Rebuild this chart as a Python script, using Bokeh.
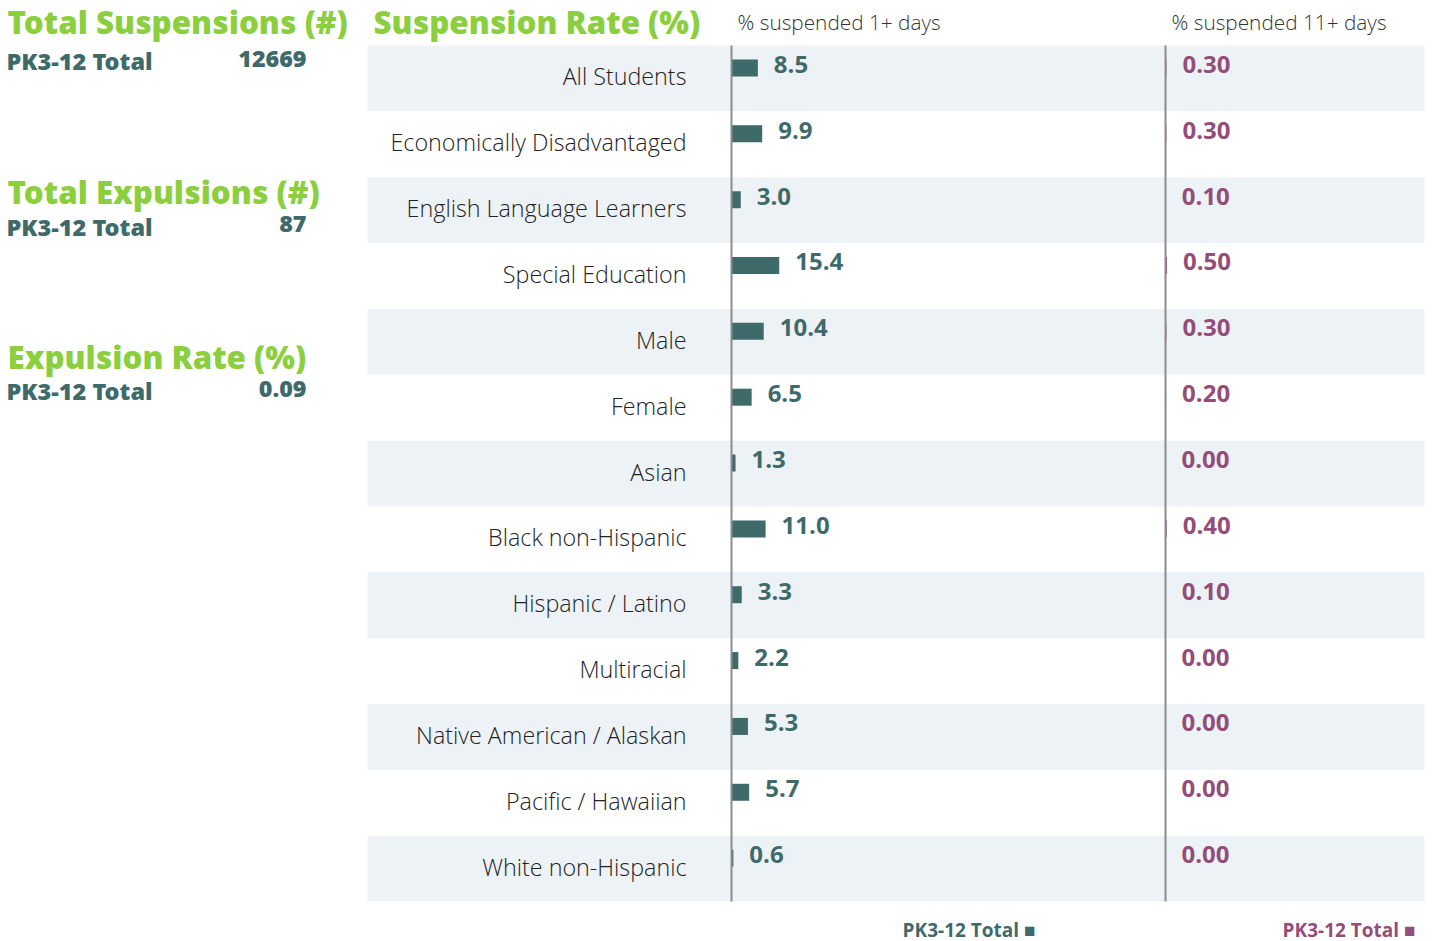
from bokeh.plotting import figure
from bokeh.models import Range1d, ColumnDataSource
from bokeh.core.properties import value
from bokeh.embed import file_html
from bokeh.resources import INLINE

# ---------------- data ----------------
categories = ["All Students", "Economically Disadvantaged", "English Language Learners",
              "Special Education", "Male", "Female", "Asian", "Black non-Hispanic",
              "Hispanic / Latino", "Multiracial", "Native American / Alaskan",
              "Pacific / Hawaiian", "White non-Hispanic"]
susp_1plus = [8.5, 9.9, 3.0, 15.4, 10.4, 6.5, 1.3, 11.0, 3.3, 2.2, 5.3, 5.7, 0.6]
susp_11plus = [0.30, 0.30, 0.10, 0.50, 0.30, 0.20, 0.00, 0.40, 0.10, 0.00, 0.00, 0.00, 0.00]
summary_titles = ["Total Suspensions (#)", "Total Expulsions (#)", "Expulsion Rate (%)"]
summary_labels = ["PK3-12 Total", "PK3-12 Total", "PK3-12 Total"]
summary_values = ["12669", "87", "0.09"]
col_headers = ["% suspended 1+ days", "% suspended 11+ days"]

# ---------------- style ----------------
GREEN = "#8BCF3F"
TEAL = "#3F6A6A"
PURPLE = "#944C78"
BAND = "#EDF2F6"
AXIS = "#8C8C8C"
FONT = value("Open Sans")
FONT_LIGHT = value("Open Sans Light, Open Sans")
FONT_HEAVY = value("Open Sans ExtraBold, Open Sans")

W, H = 1432, 941
ROW_TOP, ROW_H = 45, 65.85
PX_PER_UNIT = 3.1
X0_A, X0_B = 731, 1165
n = len(categories)

p = figure(width=W, height=H, x_range=Range1d(0, W), y_range=Range1d(H, 0),
           output_backend="svg", toolbar_location=None, min_border=0)
p.axis.visible = False
p.grid.visible = False
p.outline_line_color = None
p.background_fill_color = "white"
p.border_fill_color = "white"

p.extra_x_ranges = {
    "r1": Range1d(-X0_A / PX_PER_UNIT, (W - X0_A) / PX_PER_UNIT),
    "r2": Range1d(-X0_B / PX_PER_UNIT, (W - X0_B) / PX_PER_UNIT),
}
p.extra_y_ranges = {"rows": Range1d((H - ROW_TOP) / ROW_H, -ROW_TOP / ROW_H)}

idx = list(range(n))
centers = [i + 0.5 for i in idx]
src = ColumnDataSource(dict(
    cat=categories, c=centers, bar_y=[c - 10.5 / ROW_H for c in centers],
    a=susp_1plus, b=susp_11plus,
    a_lab=[f"{v:.1f}" for v in susp_1plus], b_lab=[f"{v:.2f}" for v in susp_11plus],
))

# alternating bands
band_src = ColumnDataSource(dict(c=[centers[i] for i in idx if i % 2 == 0]))
p.hbar(y="c", height=1, left=367, right=1424, source=band_src, y_range_name="rows",
       fill_color=BAND, line_color=None)

# bars
p.hbar(y="bar_y", height=17 / ROW_H, left=0, right="a", source=src,
       x_range_name="r1", y_range_name="rows", fill_color=TEAL, line_color=None)
p.hbar(y="bar_y", height=17 / ROW_H, left=0, right="b", source=src,
       x_range_name="r2", y_range_name="rows", fill_color=PURPLE, line_color=None)

# axis lines
p.segment(x0=[0], y0=[0], x1=[0], y1=[n], x_range_name="r1", y_range_name="rows",
          line_color=AXIS, line_width=2)
p.segment(x0=[0], y0=[0], x1=[0], y1=[n], x_range_name="r2", y_range_name="rows",
          line_color=AXIS, line_width=2)

# value labels
p.text(x="a", y="c", text="a_lab", source=src, x_range_name="r1", y_range_name="rows",
       x_offset=16, y_offset=-14, text_font=FONT, text_font_style="bold",
       text_font_size="24px", text_color=TEAL, text_baseline="alphabetic")
p.text(x="b", y="c", text="b_lab", source=src, x_range_name="r2", y_range_name="rows",
       x_offset=16, y_offset=-14, text_font=FONT, text_font_style="bold",
       text_font_size="24px", text_color=PURPLE, text_baseline="alphabetic")

# category labels
p.text(x=686, y="c", text="cat", source=src, y_range_name="rows", y_offset=-2,
       text_font=FONT_LIGHT, text_font_size="23.3px", text_color="#222222",
       text_align="right", text_baseline="alphabetic")

# titles
p.text(x=[7, 373], y=[21, 21], text=[summary_titles[0], "Suspension Rate (%)"],
       text_font=FONT_HEAVY, text_font_style="bold", text_font_size="31.3px",
       text_color=GREEN, text_baseline="alphabetic")
p.text(x=[7, 7], y=[191, 356], text=summary_titles[1:],
       text_font=FONT_HEAVY, text_font_style="bold", text_font_size="31.3px",
       text_color=GREEN, text_baseline="alphabetic")
p.text(x=[6, 6, 6], y=[60, 226, 390], text=summary_labels,
       text_font=FONT_HEAVY, text_font_style="bold", text_font_size="23.5px",
       text_color=TEAL, text_baseline="alphabetic")
p.text(x=[306, 306, 306], y=[58, 223, 388], text=summary_values,
       text_font=FONT_HEAVY, text_font_style="bold", text_font_size="23.3px",
       text_color=TEAL, text_align="right", text_baseline="alphabetic")

# column headers
p.text(x=[737, 1171], y=[21, 21], text=col_headers, text_font=FONT_LIGHT,
       text_font_size="20.8px", text_color="#333333", text_baseline="alphabetic")

# bottom legend
p.text(x=[1035], y=[929], text=["PK3-12 Total \u25A0"], text_font=FONT,
       text_font_style="bold", text_font_size="19px", text_color=TEAL,
       text_align="right", text_baseline="alphabetic")
p.text(x=[1415], y=[929], text=["PK3-12 Total \u25A0"], text_font=FONT,
       text_font_style="bold", text_font_size="19px", text_color=PURPLE,
       text_align="right", text_baseline="alphabetic")

open("out.html", "w").write(file_html(p, INLINE))
